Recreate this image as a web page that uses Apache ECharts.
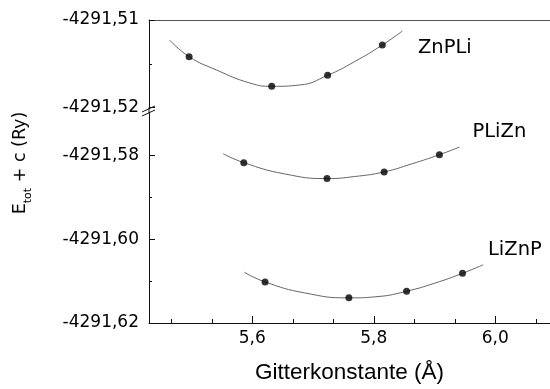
<!DOCTYPE html>
<html>
<head>
<meta charset="utf-8">
<script src="https://cdn.jsdelivr.net/npm/echarts@6/dist/echarts.min.js"></script>
<style>html,body{margin:0;padding:0;background:#fff;}#c{width:550px;height:389px;}</style>
</head>
<body>
<div id="c"></div>
<script>
// ---- data ----
const seriesNames = ['ZnPLi', 'PLiZn', 'LiZnP'];

const xMajorTicks = [5.6, 5.8, 6.0];
const xMinorTicks = [5.4667, 5.5333, 5.6667, 5.7333, 5.8667, 5.9333, 6.0667];
const yTopTicks = [-4291.52, -4291.51];
const yTopMinorTicks = [-4291.515];
const yBottomTicks = [-4291.62, -4291.60, -4291.58];
const yBottomMinorTicks = [-4291.61, -4291.59];

const znpliX = [5.496, 5.632, 5.724, 5.814];
const znpliE = [-4291.51419, -4291.51758, -4291.51632, -4291.51286];
const znpliFitX = [5.464, 5.496, 5.541, 5.596, 5.632, 5.678, 5.724, 5.768, 5.814, 5.847];
const znpliFitE = [-4291.51229, -4291.51419, -4291.51571, -4291.51720, -4291.51758, -4291.51743, -4291.51632, -4291.51477, -4291.51286, -4291.51126];

const pliznX = [5.586, 5.723, 5.817, 5.908];
const pliznE = [-4291.58173, -4291.58553, -4291.58394, -4291.57983];
const pliznFitX = [5.552, 5.586, 5.653, 5.723, 5.768, 5.817, 5.862, 5.908, 5.941];
const pliznFitE = [-4291.57960, -4291.58173, -4291.58441, -4291.58553, -4291.58505, -4291.58394, -4291.58204, -4291.57983, -4291.57801];

const liznpX = [5.621, 5.759, 5.854, 5.946];
const liznpE = [-4291.61020, -4291.61400, -4291.61241, -4291.60814];
const liznpFitX = [5.587, 5.621, 5.686, 5.759, 5.807, 5.854, 5.900, 5.946, 5.980];
const liznpFitE = [-4291.60790, -4291.61020, -4291.61281, -4291.61400, -4291.61369, -4291.61241, -4291.61051, -4291.60814, -4291.60610];

// ---- chart ----
const zip = (a, b) => a.map((v, i) => [v, b[i]]);
const fmtY = v => Number(v).toFixed(2).replace('.', ',');
const fmtX = v => Number(v).toFixed(1).replace('.', ',');
const tickFont = 'DejaVu Sans';
const AX = '#111';

const chart = echarts.init(document.getElementById('c'), null, {renderer: 'canvas'});

function xBase(grid) {
  return {type: 'value', gridIndex: grid, min: 5.43, max: 6.09, splitLine: {show: false}};
}
function yBase(grid, min, max) {
  return {type: 'value', gridIndex: grid, min: min, max: max, position: 'left', splitLine: {show: false}, scale: true};
}

const option = {
  animation: false,
  backgroundColor: '#fff',
  grid: [
    {left: 149, right: 0, top: 20, height: 87.5},
    {left: 149, right: 0, top: 113.5, height: 210.8}
  ],
  xAxis: [
    Object.assign(xBase(0), {position: 'top', axisLine: {show: true, lineStyle: {color: '#555', width: 1}},
      axisTick: {show: false}, axisLabel: {show: false}}),
    Object.assign(xBase(1), {position: 'bottom', axisLine: {show: true, onZero: false, lineStyle: {color: AX, width: 1}},
      axisTick: {show: true, inside: true, length: 7, customValues: xMajorTicks, lineStyle: {color: AX}},
      axisLabel: {show: true, customValues: xMajorTicks, formatter: fmtX, margin: 7,
        fontFamily: tickFont, fontSize: 17, color: '#000'},
      name: 'Gitterkonstante (Å)', nameLocation: 'middle', nameGap: 38,
      nameTextStyle: {fontFamily: 'Liberation Sans', fontSize: 22.5, color: '#000'}}),
    Object.assign(xBase(1), {position: 'bottom', axisLine: {show: false},
      axisTick: {show: true, inside: true, length: 4, customValues: xMinorTicks, lineStyle: {color: AX}},
      axisLabel: {show: false}})
  ],
  yAxis: [
    Object.assign(yBase(0, -4291.52, -4291.51), {axisLine: {show: true, onZero: false, lineStyle: {color: AX, width: 1}},
      axisTick: {show: true, inside: true, length: 6, customValues: yTopTicks, lineStyle: {color: AX}},
      axisLabel: {show: true, customValues: yTopTicks, formatter: fmtY, margin: 10,
        fontFamily: tickFont, fontSize: 17, color: '#000'}}),
    Object.assign(yBase(0, -4291.52, -4291.51), {axisLine: {show: false},
      axisTick: {show: true, inside: true, length: 3, customValues: yTopMinorTicks, lineStyle: {color: AX}},
      axisLabel: {show: false}}),
    Object.assign(yBase(1, -4291.62, -4291.57), {axisLine: {show: true, onZero: false, lineStyle: {color: AX, width: 1}},
      axisTick: {show: true, inside: true, length: 6, customValues: yBottomTicks, lineStyle: {color: AX}},
      axisLabel: {show: true, customValues: yBottomTicks, formatter: fmtY, margin: 10,
        fontFamily: tickFont, fontSize: 17, color: '#000'}}),
    Object.assign(yBase(1, -4291.62, -4291.57), {axisLine: {show: false},
      axisTick: {show: true, inside: true, length: 3, customValues: yBottomMinorTicks, lineStyle: {color: AX}},
      axisLabel: {show: false}})
  ],
  series: [
    {name: seriesNames[0] + ' fit', type: 'line', xAxisIndex: 0, yAxisIndex: 0, data: zip(znpliFitX, znpliFitE),
      smooth: true, showSymbol: false, lineStyle: {color: '#666', width: 1}, z: 2},
    {name: seriesNames[0], type: 'scatter', xAxisIndex: 0, yAxisIndex: 0, data: zip(znpliX, znpliE),
      symbolSize: 7, itemStyle: {color: '#000'}, z: 3},
    {name: seriesNames[1] + ' fit', type: 'line', xAxisIndex: 1, yAxisIndex: 2, data: zip(pliznFitX, pliznFitE),
      smooth: true, showSymbol: false, lineStyle: {color: '#666', width: 1}, z: 2},
    {name: seriesNames[1], type: 'scatter', xAxisIndex: 1, yAxisIndex: 2, data: zip(pliznX, pliznE),
      symbolSize: 7, itemStyle: {color: '#000'}, z: 3},
    {name: seriesNames[2] + ' fit', type: 'line', xAxisIndex: 1, yAxisIndex: 2, data: zip(liznpFitX, liznpFitE),
      smooth: true, showSymbol: false, lineStyle: {color: '#666', width: 1}, z: 2},
    {name: seriesNames[2], type: 'scatter', xAxisIndex: 1, yAxisIndex: 2, data: zip(liznpX, liznpE),
      symbolSize: 7, itemStyle: {color: '#000'}, z: 3}
  ],
  graphic: [
    {type: 'line', shape: {x1: 149, y1: 107.5, x2: 149, y2: 113.5}, style: {stroke: AX, lineWidth: 1}},
    {type: 'line', shape: {x1: 142, y1: 112, x2: 155, y2: 106}, style: {stroke: AX, lineWidth: 1}},
    {type: 'line', shape: {x1: 142, y1: 116, x2: 155, y2: 110}, style: {stroke: AX, lineWidth: 1}},
    {type: 'text', x: 418, y: 48, style: {text: seriesNames[0], font: '19.5px "DejaVu Sans"', fill: '#000',
      align: 'left', verticalAlign: 'middle'}},
    {type: 'text', x: 472.5, y: 131.5, style: {text: seriesNames[1], font: '19.5px "DejaVu Sans"', fill: '#000',
      align: 'left', verticalAlign: 'middle'}},
    {type: 'text', x: 488, y: 250, style: {text: seriesNames[2], font: '19.5px "DejaVu Sans"', fill: '#000',
      align: 'left', verticalAlign: 'middle'}},
    {type: 'text', x: 21, y: 163, rotation: Math.PI / 2,
      style: {text: '{a|E}{b|tot}{a| + c (Ry)}', align: 'center', verticalAlign: 'middle', fill: '#000',
        rich: {
          a: {fontFamily: 'DejaVu Sans', fontSize: 17.5, lineHeight: 20, verticalAlign: 'top', fill: '#000'},
          b: {fontFamily: 'DejaVu Sans', fontSize: 11, lineHeight: 12, verticalAlign: 'top', padding: [12, 0, 0, 0], fill: '#000'}
        }}}
  ]
};
chart.setOption(option);
</script>
</body>
</html>
